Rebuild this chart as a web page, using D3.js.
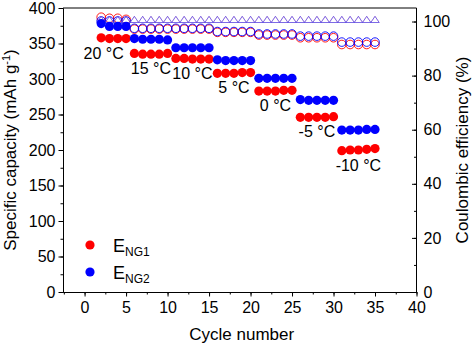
<!DOCTYPE html>
<html><head><meta charset="utf-8">
<script src="https://cdn.jsdelivr.net/npm/d3@7"></script>
<style>
html,body{margin:0;padding:0;background:#fff;}
svg{display:block;font-family:"Liberation Sans",Arial,sans-serif;}
</style></head>
<body>
<svg id="chart" width="474" height="346"></svg>
<script>
// ---- data ----
const cycles = d3.range(2, 36);
const capNG1 = [358,357,357,357, 336,335,335,335,336, 329,329,328,328,328, 308,308,308,309,309, 283,283,283,284,284, 246,246,246,246,247, 199,200,200,201,202];
const capNG2 = [378,374,374,374, 357,356,356,356,355, 344,344,344,344,344, 327,326,326,326,326, 301,301,301,301,301, 271,270,270,270,270, 228,228,228,229,229];
const ceNG1 = [101.6,101.2,101.2,100.8, 97.2,97.2,97.2,97.2,97.2, 97.2,97.2,97.2,97.2,97.2, 96.0,96.0,96.0,96.0,96.0, 95.0,95.0,95.0,95.0,95.0, 94.0,94.0,94.0,94.0,94.0, 91.5,91.5,91.5,91.5,91.5];
const ceNG2 = [100.2,100.2,100.2,100.2, 97.5,97.5,97.5,97.5,97.5, 97.5,97.5,97.5,97.5,97.5, 96.3,96.3,96.3,96.3,96.3, 95.4,95.4,95.4,95.4,95.4, 94.6,94.6,94.6,94.6,94.6, 92.4,92.4,92.4,92.4,92.4];
const ceRef = [100.3,100.3,100.3,100.3, 100.3,100.3,100.3,100.3,100.3, 100.3,100.3,100.3,100.3,100.3, 100.3,100.3,100.3,100.3,100.3, 100.3,100.3,100.3,100.3,100.3, 100.3,100.3,100.3,100.3,100.3, 100.3,100.3,100.3,100.3,100.3];
const tempLabels = ["20 °C","15 °C","10 °C","5 °C","0 °C","-5 °C","-10 °C"];
const tempCycles = [[2,5],[6,10],[11,15],[16,20],[21,25],[26,30],[31,35]];
const xTicks = [0,5,10,15,20,25,30,35,40];
const yTicks = [0,50,100,150,200,250,300,350,400];
const y2Ticks = [0,20,40,60,80,100];
const seriesNames = ["NG1","NG2"];
const seriesColors = ["#ff0000","#0000ff"];

// ---- layout ----
const svg = d3.select("#chart");
const m = {l:63, r:57.5, t:8, b:54};
const W = 474, H = 346;
const x = d3.scaleLinear().domain([-2.6, 40]).range([m.l, W - m.r]);
const y = d3.scaleLinear().domain([0, 400]).range([H - m.b, m.t]);
const y2 = d3.scaleLinear().domain([0, 105]).range([H - m.b, m.t]);

// frame top
svg.append("line").attr("x1", m.l).attr("x2", W - m.r).attr("y1", m.t).attr("y2", m.t)
  .attr("stroke", "#000").attr("stroke-width", 1);

function styleAxis(g){
  g.selectAll("path").attr("stroke","#000").attr("stroke-width",1);
  g.selectAll("line").attr("stroke","#000").attr("stroke-width",1);
  g.selectAll("text").attr("font-size","16px").attr("fill","#000").attr("font-family","Liberation Sans, Arial, sans-serif");
}

// bottom axis
const gx = svg.append("g").attr("transform", `translate(0,${H - m.b})`);
gx.call(d3.axisBottom(x).tickValues(d3.range(-2.5, 40.1, 2.5)).tickSize(2.5).tickFormat("").tickSizeOuter(0));
gx.append("g").call(d3.axisBottom(x).tickValues(xTicks).tickSize(4.5).tickPadding(5).tickSizeOuter(0));
styleAxis(gx);
// left axis
const gy = svg.append("g").attr("transform", `translate(${m.l},0)`);
gy.call(d3.axisLeft(y).tickValues(d3.range(0, 401, 25)).tickSize(2.5).tickFormat("").tickSizeOuter(0));
gy.append("g").call(d3.axisLeft(y).tickValues(yTicks).tickSize(4.5).tickPadding(3).tickSizeOuter(0));
styleAxis(gy);
// right axis
const gy2 = svg.append("g").attr("transform", `translate(${W - m.r},0)`);
gy2.call(d3.axisRight(y2).tickValues(d3.range(0, 101, 10)).tickSize(-2.5).tickFormat("").tickSizeOuter(0));
gy2.append("g").call(d3.axisRight(y2).tickValues(y2Ticks).tickSize(-4.5).tickPadding(7).tickSizeOuter(0));
styleAxis(gy2);
gy2.selectAll("g > path.domain").attr("d", `M0,${m.t}V${H - m.b}`);

// axis titles
svg.append("text").attr("x", (m.l + W - m.r)/2 + 2).attr("y", 340).attr("text-anchor","middle")
  .attr("font-size","17px").text("Cycle number");
const yt = svg.append("text").attr("transform", `translate(16,${(m.t + H - m.b)/2}) rotate(-90)`)
  .attr("text-anchor","middle").attr("font-size","17px");
yt.append("tspan").text("Specific capacity (mAh g");
yt.append("tspan").attr("dy",-6).attr("font-size","11px").text("-1");
yt.append("tspan").attr("dy",6).text(")");
svg.append("text").attr("transform", `translate(468,${(m.t + H - m.b)/2}) rotate(-90)`)
  .attr("text-anchor","middle").attr("font-size","17px").text("Coulombic efficiency (%)");

const plot = svg.append("g");
const idx = d3.range(cycles.length);

// CE open circles
[[ceNG1, seriesColors[0]], [ceNG2, seriesColors[1]]].forEach(([vals, col]) => {
  plot.append("g").selectAll("circle").data(idx).join("circle")
    .attr("cx", i => x(cycles[i])).attr("cy", i => y2(vals[i])).attr("r", 4.3)
    .attr("fill","none").attr("stroke", col).attr("stroke-width", 0.9);
});
// reference CE triangles
const tri = "M0,-4.4L4.2,1.8L-4.2,1.8Z";
["#e04a8a", "#4646ee"].forEach((col, k) => {
  plot.append("g").selectAll("path").data(idx).join("path")
    .attr("transform", i => `translate(${x(cycles[i])},${y2(ceRef[i])})`)
    .attr("d", tri).attr("fill","none").attr("stroke", col).attr("stroke-width", 0.8)
    .attr("stroke-opacity", k === 0 ? 0.5 : 0.85);
});
// capacity filled circles
[[capNG1, seriesColors[0]], [capNG2, seriesColors[1]]].forEach(([vals, col]) => {
  plot.append("g").selectAll("circle").data(idx).join("circle")
    .attr("cx", i => x(cycles[i])).attr("cy", i => y(vals[i])).attr("r", 4.6)
    .attr("fill", col);
});

// temperature labels under NG1 groups
tempLabels.forEach((t, k) => {
  const [a, b] = tempCycles[k];
  const ia = cycles.indexOf(a), ib = cycles.indexOf(b);
  const cx = (x(a) + x(b)) / 2 + (k === 0 ? -10 : 0);
  const cy = y(d3.min(capNG1.slice(ia, ib + 1))) + 20;
  svg.append("text").attr("x", cx).attr("y", cy).attr("text-anchor","middle")
    .attr("font-size","16px").text(t);
});

// legend
seriesNames.forEach((n, k) => {
  const ly = 245 + k * 27;
  svg.append("circle").attr("cx", 90).attr("cy", ly).attr("r", 4.6).attr("fill", seriesColors[k]);
  const t = svg.append("text").attr("x", 113).attr("y", ly + 7).attr("font-size","18px");
  t.append("tspan").text("E");
  t.append("tspan").attr("dy", 4).attr("font-size","12px").text(n);
});
</script>
</body></html>
